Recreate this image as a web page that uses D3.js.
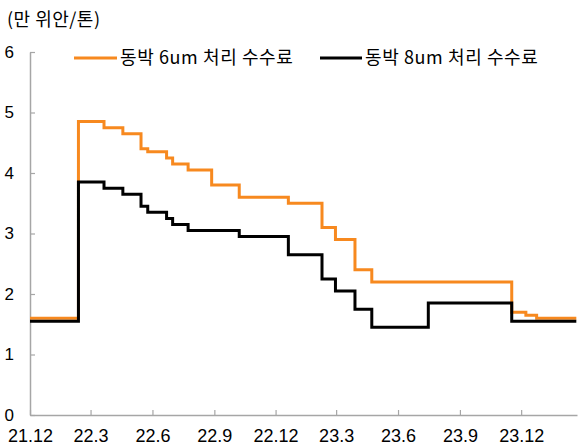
<!DOCTYPE html>
<html><head><meta charset="utf-8">
<script src="https://cdn.jsdelivr.net/npm/d3@7"></script>
<style>
html,body{margin:0;padding:0;background:#fff;}
svg{display:block;}
text{font-family:"Noto Sans CJK KR","Noto Sans",sans-serif;fill:#000;}
</style></head>
<body>
<svg id="chart" width="578" height="445"></svg>
<script>
// Step change dates (each value holds until the next date)
const dates = ["2021-12-01","2022-02-11","2022-03-21","2022-04-18","2022-05-15","2022-05-25",
  "2022-06-22","2022-07-01","2022-07-24","2022-08-28","2022-10-08","2022-12-20",
  "2023-02-08","2023-02-28","2023-03-29","2023-04-23","2023-07-16","2023-11-17",
  "2023-12-08","2023-12-24","2024-02-21"];
const fee6um = [1.60,4.85,4.75,4.65,4.40,4.35,4.25,4.15,4.05,3.80,3.60,3.50,
  3.10,2.90,2.40,2.20,2.20,1.70,1.65,1.60,1.60];
const fee8um = [1.55,3.85,3.75,3.65,3.45,3.35,3.25,3.15,3.05,3.05,2.95,2.65,
  2.25,2.05,1.75,1.45,1.85,1.55,1.55,1.55,1.55];
const seriesNames = ["동박 6um 처리 수수료","동박 8um 처리 수수료"];
const seriesColors = ["#F7891F","#000000"];
const xTickDates = ["2021-12-01","2022-03-01","2022-06-01","2022-09-01","2022-12-01",
  "2023-03-01","2023-06-01","2023-09-01","2023-12-01"];
const yTicks = [0,1,2,3,4,5,6];
const unitLabel = "(만 위안/톤)";

const parse = d3.timeParse("%Y-%m-%d");
const svg = d3.select("#chart");
const x = d3.scaleTime().domain([parse("2021-12-01"), parse("2024-02-22")]).range([30, 577]);
const y = d3.scaleLinear().domain([0, 6]).range([415, 52]);

// axes
const axisColor = "#a6a6a6";
const xAxis = svg.append("g").attr("transform", "translate(0,415)")
  .call(d3.axisBottom(x).tickValues(xTickDates.map(parse)).tickSizeInner(-5).tickSizeOuter(0)
    .tickFormat(d => d3.timeFormat("%y")(d) + "." + (d.getMonth() + 1)));
xAxis.select(".domain").attr("stroke", axisColor).attr("stroke-width", 1.5);
xAxis.selectAll(".tick line").attr("stroke", axisColor).attr("stroke-width", 1.2);
xAxis.selectAll(".tick text").attr("font-size", 18).attr("dy", 0).attr("y", 27)
  .style("font-family", "'Liberation Sans', Arial, sans-serif");

const yAxis = svg.append("g").attr("transform", "translate(30,0)")
  .call(d3.axisLeft(y).tickValues(yTicks).tickSizeInner(-5).tickSizeOuter(0).tickFormat(d3.format("d")));
yAxis.select(".domain").attr("stroke", axisColor).attr("stroke-width", 1.5);
yAxis.selectAll(".tick text").attr("font-size", 17).attr("x", -16).attr("text-anchor", "end")
  .style("font-family", "'Liberation Sans', Arial, sans-serif");
yAxis.selectAll(".tick line").attr("stroke", axisColor).attr("stroke-width", 1.2);

// unit label
svg.append("text").attr("x", 7).attr("y", 26).attr("font-size", 18)
  .attr("letter-spacing", 0.5).text(unitLabel);

// lines
const line = d3.line().curve(d3.curveStepAfter).x(d => x(d[0])).y(d => y(d[1]));
[fee6um, fee8um].forEach((vals, i) => {
  svg.append("path")
    .datum(dates.map((d, j) => [parse(d), vals[j]]))
    .attr("fill", "none").attr("stroke", seriesColors[i]).attr("stroke-width", 3)
    .attr("stroke-linejoin", "miter").attr("d", line);
});

// legend
const legendPos = [{x1: 74, x2: 117, tx: 120}, {x1: 320, x2: 362, tx: 365}];
seriesNames.forEach((name, i) => {
  const p = legendPos[i];
  svg.append("line").attr("x1", p.x1).attr("x2", p.x2).attr("y1", 58).attr("y2", 58)
    .attr("stroke", seriesColors[i]).attr("stroke-width", 3);
  svg.append("text").attr("x", p.tx).attr("y", 64).attr("font-size", 18)
    .attr("letter-spacing", 0.6).text(name);
});
</script>
</body></html>
